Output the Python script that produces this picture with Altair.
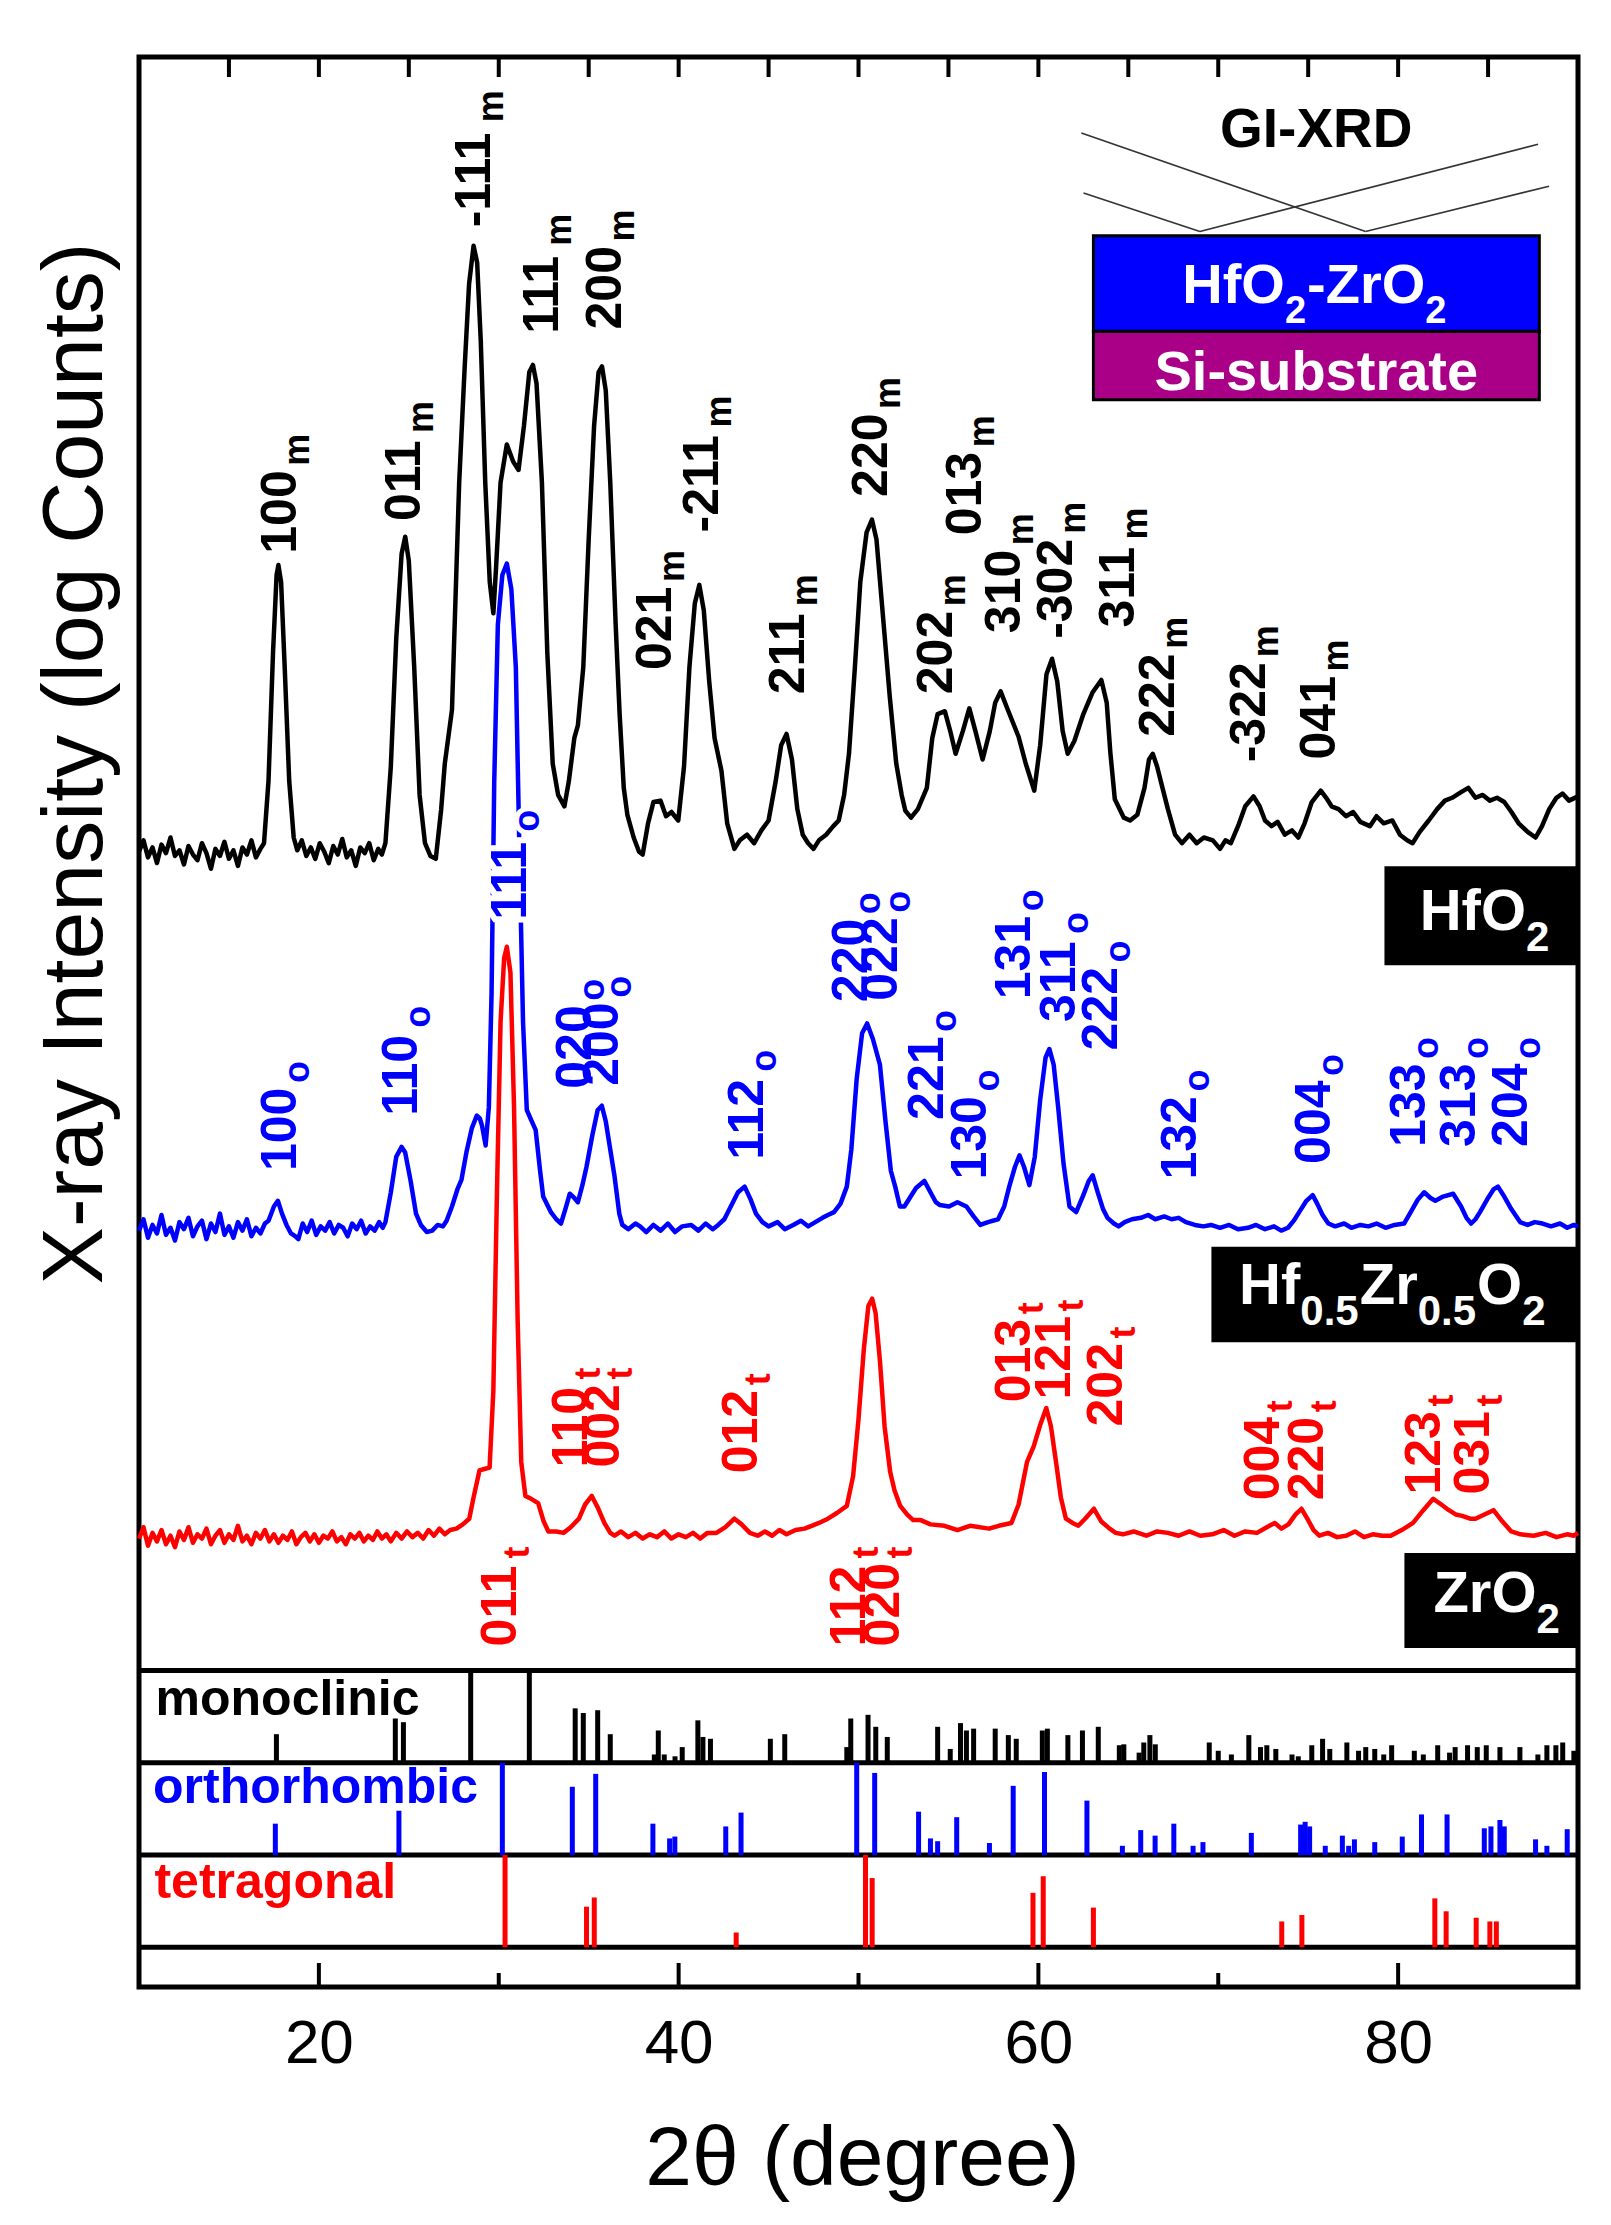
import altair as alt
import pandas as pd

FONT = "Liberation Sans"

# ---------------- data ----------------
# 2theta (deg), intensity (log counts, offset, arbitrary units)
HFO2 = [(10.0,800),(10.25,808),(10.5,796),(10.75,803),(11.0,792),(11.25,805),(11.5,799),(11.75,810),(12.0,797),
(12.25,801),(12.5,791),(12.75,804),(13.0,798),(13.25,794),(13.5,806),(13.75,799),(14.0,788),(14.25,802),(14.5,797),
(14.75,807),(15.0,795),(15.25,801),(15.5,790),(15.75,803),(16.0,798),(16.25,808),(16.5,796),(16.75,802),(16.95,806),
(17.2,850),(17.45,940),(17.65,995),(17.75,1002),(17.9,990),(18.1,930),(18.35,850),(18.6,810),(18.8,801),(19.05,808),
(19.3,797),(19.55,803),(19.8,795),(20.05,806),(20.3,800),(20.55,792),(20.8,804),(21.05,798),(21.3,809),(21.55,796),
(21.8,801),(22.05,790),(22.3,803),(22.55,799),(22.8,806),(23.05,794),(23.3,802),(23.5,798),(23.7,806),(24.0,860),
(24.3,950),(24.6,1010),(24.8,1022),(25.0,1005),(25.3,930),(25.6,840),(25.9,806),(26.2,797),(26.5,795),(26.8,830),
(27.0,862),(27.4,900),(27.8,1060),(28.1,1140),(28.35,1200),(28.6,1227),(28.8,1215),(29.0,1160),(29.25,1060),(29.5,990),
(29.7,968),(29.85,1000),(30.1,1060),(30.45,1087),(30.8,1075),(31.1,1069),(31.4,1100),(31.7,1138),(31.9,1143),(32.1,1130),
(32.4,1060),(32.7,940),(33.0,862),(33.3,840),(33.65,832),(33.9,850),(34.2,880),(34.4,889),(34.7,930),(35.0,1020),
(35.3,1100),(35.55,1138),(35.74,1142),(35.95,1125),(36.2,1060),(36.5,960),(36.72,897),(36.95,845),(37.15,826),(37.5,810),
(37.8,800),(38.0,798),(38.3,820),(38.6,835),(38.99,836),(39.3,825),(39.6,828),(39.98,822),(40.3,860),(40.6,930),
(40.9,975),(41.15,988),(41.4,970),(41.7,920),(42.0,880),(42.38,857),(42.7,820),(43.1,802),(43.4,808),(43.8,812),
(44.2,806),(44.6,815),(45.0,822),(45.4,850),(45.7,875),(46.0,883),(46.3,865),(46.6,830),(46.9,812),(47.2,806),
(47.5,802),(47.8,808),(48.2,812),(48.6,818),(48.9,822),(49.2,840),(49.47,869),(49.8,930),(50.1,990),(50.45,1025),
(50.75,1034),(51.0,1020),(51.3,975),(51.74,909),(52.1,862),(52.4,840),(52.6,829),(52.92,824),(53.3,830),(53.8,845),
(54.1,880),(54.4,897),(54.8,899),(55.1,885),(55.4,869),(55.8,885),(56.16,901),(56.5,885),(56.9,865),(57.3,885),
(57.6,905),(57.9,913),(58.3,900),(58.9,881),(59.3,862),(59.77,843),(60.1,875),(60.45,925),(60.76,936),(61.05,920),
(61.35,885),(61.63,869),(62.0,878),(62.5,897),(63.0,912),(63.5,921),(63.8,905),(64.0,870),(64.25,837),(64.75,824),
(65.1,822),(65.5,826),(65.9,845),(66.15,865),(66.36,869),(66.6,860),(66.9,845),(67.2,830),(67.6,812),(67.98,806),
(68.4,812),(68.8,806),(69.2,810),(69.7,808),(70.1,802),(70.4,808),(70.7,806),(71.1,818),(71.5,832),(71.96,839),
(72.3,832),(72.6,822),(72.96,818),(73.3,821),(73.7,812),(74.1,815),(74.45,810),(74.8,820),(75.2,835),(75.7,843),
(76.0,838),(76.3,832),(76.69,830),(77.1,825),(77.5,828),(77.9,821),(78.43,818),(78.8,825),(79.2,820),(79.68,822),
(80.1,812),(80.5,808),(80.8,806),(81.2,814),(81.7,822),(82.17,830),(82.6,836),(83.0,838),(83.5,842),(83.9,845),
(84.3,838),(84.7,840),(85.1,836),(85.5,838),(85.9,835),(86.3,828),(86.7,820),(87.2,814),(87.64,810),(88.0,818),
(88.4,830),(88.8,838),(89.14,841),(89.5,836),(90.0,839)]

HZO = [(10.0,533),(10.25,541),(10.5,528),(10.75,537),(11.0,531),(11.25,544),(11.5,530),(11.75,535),(12.0,526),
(12.25,539),(12.5,534),(12.75,542),(13.0,529),(13.25,536),(13.5,540),(13.75,527),(14.0,538),(14.25,532),(14.5,545),
(14.75,530),(15.0,536),(15.25,528),(15.5,539),(15.75,533),(16.0,541),(16.25,529),(16.5,535),(16.75,531),(17.0,538),
(17.2,540),(17.5,550),(17.72,554),(17.95,545),(18.2,537),(18.45,531),(18.7,529),(18.86,527),(19.1,538),(19.35,532),
(19.6,540),(19.85,530),(20.1,536),(20.35,533),(20.6,539),(20.85,531),(21.1,537),(21.35,535),(21.6,529),(21.85,538),
(22.1,534),(22.35,540),(22.6,531),(22.85,536),(23.1,533),(23.35,539),(23.55,535),(23.7,539),(24.0,560),(24.3,585),
(24.6,592),(24.8,588),(25.1,568),(25.4,545),(25.67,537),(26.0,532),(26.3,533),(26.6,537),(26.9,536),(27.1,540),
(27.4,550),(27.7,562),(27.93,569),(28.2,588),(28.5,605),(28.78,614),(28.95,612),(29.07,607),(29.27,593),(29.45,620),
(29.6,700),(29.75,850),(29.95,960),(30.2,995),(30.45,1003),(30.7,985),(30.95,930),(31.15,800),(31.35,680),(31.56,618),
(31.8,611),(32.05,604),(32.3,575),(32.47,557),(32.9,546),(33.2,541),(33.46,538),(33.7,548),(33.95,559),(34.2,556),
(34.4,553),(34.65,565),(34.88,578),(35.2,600),(35.5,618),(35.73,621),(35.95,610),(36.2,590),(36.44,571),(36.7,545),
(36.87,537),(37.2,534),(37.6,538),(37.86,536),(38.2,532),(38.6,537),(39.0,533),(39.4,538),(39.8,532),(40.2,536),
(40.7,537),(41.1,533),(41.5,538),(41.9,534),(42.2,537),(42.54,541),(42.9,550),(43.3,560),(43.67,564),(44.0,555),
(44.3,545),(44.66,539),(45.0,536),(45.5,539),(45.9,534),(46.37,537),(46.8,540),(47.2,536),(47.6,539),(48.0,542),
(48.3,544),(48.64,546),(49.0,552),(49.35,564),(49.6,590),(49.9,640),(50.2,672),(50.48,679),(50.8,668),(51.19,650),
(51.5,610),(51.8,575),(52.04,564),(52.3,550),(52.55,550),(52.9,557),(53.2,563),(53.66,568),(54.0,560),(54.3,553),
(54.53,551),(55.03,550),(55.5,553),(56.0,550),(56.4,543),(56.77,537),(57.2,539),(57.76,541),(58.1,550),(58.38,564),
(58.7,578),(58.95,586),(59.2,578),(59.5,565),(59.8,585),(60.1,625),(60.4,655),(60.61,661),(60.85,650),(61.1,620),
(61.4,580),(61.73,550),(62.1,546),(62.5,558),(62.8,568),(63.02,572),(63.3,560),(63.6,548),(63.84,542),(64.2,538),
(64.46,536),(64.8,539),(65.2,541),(65.7,542),(66.1,544),(66.5,541),(67.0,543),(67.4,541),(67.8,542),(68.2,539),
(68.7,537),(69.17,536),(69.6,537),(70.1,535),(70.6,537),(71.1,534),(71.65,535),(72.1,537),(72.6,534),(73.1,536),
(73.5,533),(73.88,535),(74.2,540),(74.5,546),(74.9,554),(75.25,558),(75.5,552),(75.8,544),(76.12,538),(76.5,536),
(77.0,538),(77.4,535),(77.9,537),(78.35,536),(78.8,538),(79.3,535),(79.8,537),(80.33,538),(80.7,546),(81.1,555),
(81.45,560),(81.8,556),(82.07,554),(82.5,557),(83.06,559),(83.5,550),(83.8,542),(84.06,538),(84.3,541),(84.55,546),
(85.0,556),(85.3,562),(85.55,564),(85.9,557),(86.3,548),(86.78,539),(87.2,537),(87.6,539),(88.03,538),(88.5,536),
(89.0,538),(89.4,535),(89.77,537),(90.0,536)]

ZRO2 = [(10.0,316),(10.25,324),(10.5,311),(10.75,320),(11.0,314),(11.25,322),(11.5,312),(11.75,318),(12.0,310),
(12.25,321),(12.5,315),(12.75,324),(13.0,313),(13.25,319),(13.5,316),(13.75,323),(14.0,312),(14.25,318),(14.5,322),
(14.75,313),(15.0,319),(15.25,315),(15.5,325),(15.75,314),(16.0,318),(16.25,312),(16.5,320),(16.75,316),(17.0,322),
(17.25,314),(17.5,319),(17.75,313),(18.0,318),(18.25,315),(18.5,321),(18.75,312),(19.0,317),(19.25,320),(19.5,314),
(19.75,319),(20.0,313),(20.25,318),(20.5,316),(20.75,321),(21.0,314),(21.25,317),(21.5,312),(21.75,319),(22.0,316),
(22.25,320),(22.5,314),(22.75,318),(23.0,315),(23.25,321),(23.5,316),(23.75,319),(24.0,314),(24.3,320),(24.6,316),
(24.9,321),(25.2,317),(25.5,320),(25.8,316),(26.1,322),(26.4,318),(26.7,323),(27.0,319),(27.3,322),(27.65,323),
(28.0,326),(28.36,330),(28.6,345),(28.93,364),(29.2,365),(29.49,366),(29.7,420),(29.9,560),(30.1,680),(30.3,725),
(30.45,733),(30.65,715),(30.85,620),(31.05,470),(31.25,370),(31.48,346),(31.8,344),(32.19,341),(32.5,328),(32.76,321),
(33.2,321),(33.6,320),(34.0,324),(34.46,330),(34.8,340),(35.17,346),(35.5,338),(35.87,327),(36.2,320),(36.44,318),
(36.8,321),(37.2,317),(37.6,320),(38.0,316),(38.4,319),(38.8,317),(39.2,321),(39.6,316),(40.0,319),(40.4,317),
(40.8,320),(41.2,316),(41.6,320),(42.1,320),(42.6,324),(43.1,330),(43.5,326),(43.96,320),(44.4,318),(44.8,321),
(45.2,318),(45.6,322),(46.0,319),(46.5,322),(47.0,323),(47.4,325),(47.8,327),(48.3,330),(48.8,334),(49.35,339),
(49.7,360),(50.0,400),(50.3,450),(50.55,480),(50.76,485),(50.95,475),(51.2,440),(51.45,395),(51.76,363),(52.0,350),
(52.32,339),(52.7,333),(53.04,329),(53.46,329),(54.0,326),(54.78,325),(55.5,322),(56.2,325),(57.26,323),(57.8,325),
(58.5,327),(58.9,340),(59.37,370),(59.74,381),(60.1,396),(60.44,408),(60.7,395),(60.98,370),(61.25,345),(61.53,330),
(61.9,327),(62.22,325),(62.6,330),(63.09,337),(63.5,328),(63.96,323),(64.3,320),(64.7,319),(65.3,321),(66.0,318),
(66.6,321),(67.2,320),(67.8,318),(68.4,321),(69.0,318),(69.67,319),(70.3,322),(70.9,318),(71.5,321),(72.15,320),
(72.7,324),(73.14,327),(73.51,323),(73.9,326),(74.3,333),(74.63,337),(74.95,330),(75.3,322),(75.62,318),(76.1,320),
(76.6,317),(77.11,318),(77.6,321),(78.1,317),(78.6,319),(79.1,318),(79.59,318),(80.2,322),(80.83,327),(81.4,336),
(81.95,344),(82.4,340),(82.82,336),(83.2,333),(83.56,332),(84.0,330),(84.3,330),(84.8,333),(85.3,336),(85.8,328),
(86.29,321),(86.8,319),(87.53,318),(88.2,320),(88.8,317),(89.4,319),(89.77,318),(90.0,320)]

# reference patterns: 2theta (deg), relative intensity (%)
MONO_STICKS = [(17.64,31),(24.25,48),(24.7,44),(28.44,100),(31.7,100),(34.25,59),(34.7,54),(35.5,57),(36.2,31),
(38.65,9),(38.87,35),(39.2,9),(39.8,7),(40.2,17),(41.07,46),(41.35,28),(41.77,26),(45.1,26),(45.9,31),(49.35,17),
(49.57,48),(50.53,52),(50.96,39),(51.6,28),(54.4,39),(55.1,15),(55.67,43),(56.0,35),(56.4,37),(57.6,37),(58.33,30),
(58.77,26),(60.22,35),(60.5,37),(61.64,30),(62.45,35),(63.33,39),(64.5,19),(64.75,20),(65.6,11),(65.86,22),(66.2,30),
(66.5,20),(69.5,22),(70.0,13),(70.73,9),(71.7,30),(72.35,17),(72.7,19),(73.2,15),(74.1,9),(74.45,7),(75.2,19),
(75.8,26),(76.2,15),(77.15,22),(77.8,13),(78.2,17),(78.7,15),(79.2,9),(79.64,19),(80.9,13),(81.4,9),(82.2,19),
(82.86,11),(83.17,17),(83.86,19),(84.4,17),(84.9,19),(85.66,17),(86.77,17),(87.77,9),(88.27,19),(88.77,19),
(89.15,22),(89.77,13)]
ORTHO_STICKS = [(17.58,34),(24.45,48),(30.2,100),(34.09,74),(35.39,88),(38.57,34),(39.5,18),(39.79,20),(42.62,31),
(43.47,46),(49.9,100),(50.9,89),(53.34,47),(54.0,18),(54.4,15),(55.46,41),(57.28,13),(58.6,75),(60.34,90),(62.7,59),
(64.67,10),(65.69,27),(66.49,21),(67.53,34),(68.6,10),(69.15,14),(71.84,24),(74.58,33),(74.83,36),(75.08,31),
(75.95,10),(76.9,21),(77.25,10),(77.57,17),(78.7,14),(80.23,20),(81.3,44),(82.72,44),(84.79,29),(85.16,31),
(85.66,38),(85.9,31),(87.64,17),(88.27,10),(89.4,28)]
TETRA_STICKS = [(30.35,100),(34.88,44),(35.31,54),(43.2,16),(50.39,100),(50.76,75),(59.7,59),(60.27,77),(63.06,43),
(73.53,28),(74.65,35),(82.04,53),(82.67,39),(84.34,32),(85.1,28),(85.46,28)]

# peak labels: (hkl, phase subscript, 2theta, intensity where text starts)
PEAK_LABELS = [
("100","m",17.72,1010),("011","m",24.6,1033),("-111","m",28.5,1240),("111","m",32.3,1165),("200","m",35.8,1168),
("021","m",38.6,928),("-211","m",41.2,1025),("211","m",45.95,911),("220","m",50.6,1050),("202","m",54.2,911),
("013","m",55.8,1023),("310","m",58.0,954),("-302","m",60.85,950),("311","m",64.3,958),("222","m",66.55,881),
("-322","m",71.6,863),("041","m",75.5,865),
("100","o",17.7,575),("110","o",24.45,614),("111","o",30.5,752),("020","o",34.15,633),("200","o",35.65,635),
("112","o",43.7,583),("220","o",49.45,694),("022","o",51.15,695),("221","o",53.7,611),("130","o",56.1,569),
("131","o",58.55,696),("311","o",61.05,680),("222","o",63.35,660),("132","o",67.75,569),("004","o",75.2,580),
("133","o",80.5,592),("313","o",83.3,592),("204","o",86.15,592),
("011","t",29.95,240),("110","t",33.9,366),("002","t",35.7,366),("012","t",43.35,362),("112","t",49.35,240),
("020","t",51.25,240),("013","t",58.55,412),("121","t",60.75,414),("202","t",63.65,395),("004","t",72.35,343),
("220","t",74.85,343),("123","t",81.3,347),("031","t",84.05,347)]

PHASES = ["m", "o", "t"]
PHASE_NAMES = ["monoclinic", "orthorhombic", "tetragonal"]
PHASE_COLORS = ["#000000", "#0000ff", "#ff0000"]

X_TICK_LABELS = [20, 40, 60, 80]
X_MINOR = [30, 50, 70]
X_TOP_TICKS = [15, 20, 25, 30, 35, 40, 45, 50, 55, 60, 65, 70, 75, 80, 85]

# ---------------- layout (positions in axis units) ----------------
W, H = 1439, 1930
X_DOM = [10, 90]
Y_DOM = [0, 1360]
PANEL_BASE = {"m": 158, "o": 93, "t": 28}
PANEL_H = 65
DIVIDERS = [223, 158, 93, 28]

xscale = alt.Scale(domain=X_DOM, nice=False, zero=False)
yscale = alt.Scale(domain=Y_DOM, nice=False, zero=False)
xaxis = alt.Axis(values=X_TICK_LABELS, title="2θ (degree)", labelFont=FONT, labelFontSize=62,
                 labelColor="black", labelPadding=26, ticks=True, tickSize=0, tickWidth=0,
                 domain=False, grid=False, titleFont=FONT, titleFontSize=84, titleFontWeight="normal",
                 titleColor="black", titleX=723, titleY=172, titleAlign="center", titleBaseline="middle")
yaxis = alt.Axis(title="X-ray Intensity (log Counts)", labels=False, ticks=False, domain=False, grid=False,
                 titleFont=FONT, titleFontSize=86, titleFontWeight="normal", titleColor="black",
                 titleX=-64, titleY=706, titleAngle=270, titleAlign="center", titleBaseline="middle")


def X(f):
    return alt.X(f, type="quantitative", scale=xscale, axis=xaxis)


def Y(f):
    return alt.Y(f, type="quantitative", scale=yscale, axis=yaxis)


phase_color = alt.Color("phase:N", scale=alt.Scale(domain=PHASES, range=PHASE_COLORS), legend=None)

layers = []

# dividers of the reference-pattern panels
div_df = pd.DataFrame({"lvl": DIVIDERS})
layers.append(alt.Chart(div_df).mark_rule(color="black", strokeWidth=5).encode(
    y=Y("lvl"), x=alt.value(0), x2=alt.value(W)))

# reference sticks
st_rows = []
for ph, lst in zip(PHASES, [MONO_STICKS, ORTHO_STICKS, TETRA_STICKS]):
    for d, r in lst:
        st_rows.append({"deg": d, "rel": r, "phase": ph})
st_df = pd.DataFrame(st_rows)
base_expr = (f"datum.phase == 'm' ? {PANEL_BASE['m']} : "
             f"(datum.phase == 'o' ? {PANEL_BASE['o']} : {PANEL_BASE['t']})")
layers.append(alt.Chart(st_df).transform_calculate(
    y0=base_expr).transform_calculate(y1=f"datum.y0 + datum.rel * {PANEL_H} / 100").mark_rule(
    strokeWidth=5).encode(x=X("deg"), y=Y("y0"), y2=alt.Y2("y1"), color=phase_color))

# panel names
pn_df = pd.DataFrame({"name": PHASE_NAMES, "phase": PHASES,
                      "deg": [10.92, 10.78, 10.86], "v": [191.6, 129.4, 62.5]})
layers.append(alt.Chart(pn_df).mark_text(align="left", baseline="alphabetic", font=FONT,
                                         fontSize=50, fontWeight="bold").encode(
    x=X("deg"), y=Y("v"), text="name:N", color=phase_color))

# ticks (inward)
layers.append(alt.Chart(pd.DataFrame({"deg": X_TOP_TICKS})).mark_rule(color="black", strokeWidth=4).encode(
    x=X("deg"), y=alt.value(0), y2=alt.value(20)))
layers.append(alt.Chart(pd.DataFrame({"deg": X_TICK_LABELS})).mark_rule(color="black", strokeWidth=4).encode(
    x=X("deg"), y=alt.value(H), y2=alt.value(H - 24)))
layers.append(alt.Chart(pd.DataFrame({"deg": X_MINOR})).mark_rule(color="black", strokeWidth=4).encode(
    x=X("deg"), y=alt.value(H), y2=alt.value(H - 14)))

# spectra
for data, col in [(HFO2, "#000000"), (HZO, "#0000ff"), (ZRO2, "#ff0000")]:
    df = pd.DataFrame(data, columns=["deg", "v"])
    layers.append(alt.Chart(df).mark_line(color=col, strokeWidth=4.5, strokeJoin="round").encode(
        x=X("deg"), y=Y("v")))

# peak labels
lbl_df = pd.DataFrame(PEAK_LABELS, columns=["hkl", "sub", "deg", "v"])
lbl_df["phase"] = lbl_df["sub"]
LF, LFS = 50, 36
DY_MAIN, DY_SUB = 18, 31
DX3, DX4 = 88, 105
main_kw = dict(angle=270, align="left", baseline="alphabetic", font=FONT, fontWeight="bold")
# white halo behind the label sitting on the blue 111 peak
halo = alt.Chart(lbl_df).transform_filter("datum.hkl == '111' && datum.sub == 'o'")
layers.append(halo.mark_text(dy=DY_MAIN, fontSize=LF, color="white", stroke="white", strokeWidth=12,
                             **main_kw).encode(x=X("deg"), y=Y("v"), text="hkl:N"))
layers.append(halo.mark_text(dy=DY_SUB, dx=DX3, fontSize=LFS, color="white", stroke="white", strokeWidth=10,
                             **main_kw).encode(x=X("deg"), y=Y("v"), text="sub:N"))
layers.append(alt.Chart(lbl_df).mark_text(dy=DY_MAIN, fontSize=LF, **main_kw).encode(
    x=X("deg"), y=Y("v"), text="hkl:N", color=phase_color))
layers.append(alt.Chart(lbl_df).transform_filter("length(datum.hkl) == 3").mark_text(
    dy=DY_SUB, dx=DX3, fontSize=LFS, **main_kw).encode(x=X("deg"), y=Y("v"), text="sub:N", color=phase_color))
layers.append(alt.Chart(lbl_df).transform_filter("length(datum.hkl) == 4").mark_text(
    dy=DY_SUB, dx=DX4, fontSize=LFS, **main_kw).encode(x=X("deg"), y=Y("v"), text="sub:N", color=phase_color))

# sample name boxes
box_df = pd.DataFrame({"x0": [79.24, 69.62, 80.35], "x1": [90, 90, 90],
                       "y0": [720.0, 454.4, 238.8], "y1": [789.8, 521.6, 305.8]})
layers.append(alt.Chart(box_df).mark_rect(color="black").encode(
    x=X("x0"), x2=alt.X2("x1"), y=Y("y0"), y2=alt.Y2("y1")))

BOLD_W = {"H": 0.722, "f": 0.333, "O": 0.778, "Z": 0.611, "r": 0.389, "-": 0.333, ".": 0.278,
          "0": 0.556, "2": 0.556, "5": 0.556}


def rich_text(deg, v, segments, fs, fss, dysub, color):
    out = []
    off = 0.0
    for txt, is_sub in segments:
        size = fss if is_sub else fs
        d = pd.DataFrame({"deg": [deg], "v": [v], "t": [txt]})
        out.append(alt.Chart(d).mark_text(align="left", baseline="alphabetic", font=FONT, fontWeight="bold",
                                          fontSize=size, color=color, dx=round(off, 1),
                                          dy=dysub if is_sub else 0).encode(x=X("deg"), y=Y("v"), text="t:N"))
        off += sum(BOLD_W.get(c, 0.556) for c in txt) * size + (1 if is_sub else 0)
    return out


layers += rich_text(81.2, 745, [("HfO", False), ("2", True)], 58, 42, 21, "white")
layers += rich_text(71.16, 481, [("Hf", False), ("0.5", True), ("Zr", False), ("0.5", True),
                                 ("O", False), ("2", True)], 58, 42, 21, "white")
layers += rich_text(81.96, 264, [("ZrO", False), ("2", True)], 58, 42, 21, "white")

# GI-XRD inset
beam_df = pd.DataFrame({"x0": [62.39, 62.51, 68.98, 78.19], "y0": [1306.4, 1264.1, 1237.1, 1237.1],
                        "x1": [78.19, 68.98, 87.78, 88.39], "y1": [1237.1, 1237.1, 1298.5, 1268.9]})
layers.append(alt.Chart(beam_df).mark_rule(color="#333333", strokeWidth=1.6).encode(
    x=X("x0"), x2=alt.X2("x1"), y=Y("y0"), y2=alt.Y2("y1")))
film_df = pd.DataFrame({"x0": [63.06], "x1": [87.85], "y0": [1166.7], "y1": [1234.0]})
subs_df = pd.DataFrame({"x0": [63.06], "x1": [87.85], "y0": [1118.4], "y1": [1166.7]})
layers.append(alt.Chart(subs_df).mark_rect(fill="#aa0088", stroke="black", strokeWidth=3).encode(
    x=X("x0"), x2=alt.X2("x1"), y=Y("y0"), y2=alt.Y2("y1")))
layers.append(alt.Chart(film_df).mark_rect(fill="#0000ff", stroke="black", strokeWidth=3).encode(
    x=X("x0"), x2=alt.X2("x1"), y=Y("y0"), y2=alt.Y2("y1")))
layers += rich_text(68.0, 1186.5, [("HfO", False), ("2", True), ("-ZrO", False), ("2", True)], 56, 38, 20, "white")
ann_df = pd.DataFrame({"t": ["GI-XRD", "Si-substrate"], "deg": [75.45, 75.45], "v": [1296.6, 1125.5]})
layers.append(alt.Chart(ann_df).transform_filter("datum.t == 'GI-XRD'").mark_text(
    align="center", baseline="alphabetic", font=FONT, fontWeight="bold", fontSize=55, color="black").encode(
    x=X("deg"), y=Y("v"), text="t:N"))
layers.append(alt.Chart(ann_df).transform_filter("datum.t == 'Si-substrate'").mark_text(
    align="center", baseline="alphabetic", font=FONT, fontWeight="bold", fontSize=56, color="white").encode(
    x=X("deg"), y=Y("v"), text="t:N"))

chart = alt.layer(*layers).properties(
    width=W, height=H,
    padding={"left": 131, "top": 49, "right": 25, "bottom": 220},
    autosize=alt.AutoSizeParams(type="none"),
    background="white",
).configure_view(stroke="black", strokeWidth=5)

chart.save("out.html", embed_options={"renderer": "svg", "actions": False})
